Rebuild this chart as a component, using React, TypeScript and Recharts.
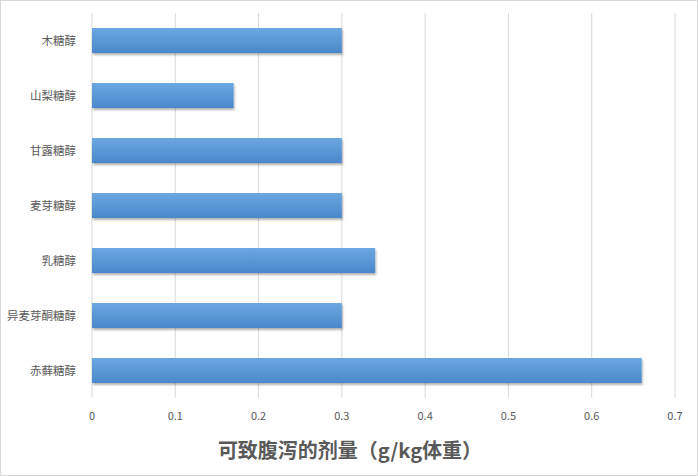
import { BarChart, Bar, XAxis, YAxis, CartesianGrid } from 'recharts';

// categories from top to bottom
const categories = ['木糖醇', '山梨糖醇', '甘露糖醇', '麦芽糖醇', '乳糖醇', '异麦芽酮糖醇', '赤藓糖醇'];
const doses = [0.3, 0.17, 0.3, 0.3, 0.34, 0.3, 0.66];
const xTicks = [0, 0.1, 0.2, 0.3, 0.4, 0.5, 0.6, 0.7];

const data = categories.map((name, i) => ({ name, value: doses[i] }));

const FONT = '"Noto Sans CJK SC", "Microsoft YaHei", sans-serif';

export default function App() {
    return (
        <div
            style={{
                position: 'absolute',
                left: 0,
                top: 0,
                width: 698,
                height: 476,
                background: '#fff',
                boxSizing: 'border-box',
                border: '1px solid #d9d9d9',
                fontFamily: FONT,
            }}
        >
            <BarChart
                width={696}
                height={474}
                data={data}
                layout="vertical"
                margin={{ top: 12, right: 22, left: 0, bottom: 0 }}
                barSize={25}
            >
                <defs>
                    <linearGradient id="barFill" x1="0" y1="0" x2="0" y2="1">
                        <stop offset="0%" stopColor="#6ba7e0" />
                        <stop offset="100%" stopColor="#4a88cb" />
                    </linearGradient>
                    <filter id="barShadow" x="-5%" y="-20%" width="110%" height="160%">
                        <feDropShadow dx="1" dy="2" stdDeviation="1.2" floodColor="#000" floodOpacity="0.3" />
                    </filter>
                </defs>
                <CartesianGrid horizontal={false} stroke="#d9d9d9" />
                <XAxis
                    type="number"
                    domain={[0, 0.7]}
                    ticks={xTicks}
                    axisLine={false}
                    tickLine={false}
                    tickMargin={8}
                    height={77}
                    tick={{ fontSize: 11, fill: '#595959', fontFamily: FONT }}
                />
                <YAxis
                    type="category"
                    dataKey="name"
                    width={91}
                    axisLine={false}
                    tickLine={false}
                    tickMargin={10}
                    tick={{ fontSize: 11.5, fill: '#595959', fontFamily: FONT }}
                />
                <Bar
                    dataKey="value"
                    fill="url(#barFill)"
                    filter="url(#barShadow)"
                    isAnimationActive={false}
                />
            </BarChart>
            <div
                style={{
                    position: 'absolute',
                    left: 0,
                    width: 698,
                    top: 435,
                    textAlign: 'center',
                    fontSize: 20,
                    fontWeight: 600,
                    color: '#595959',
                    lineHeight: '28px',
                }}
            >
                可致腹泻的剂量（g/kg体重）
            </div>
        </div>
    );
}
